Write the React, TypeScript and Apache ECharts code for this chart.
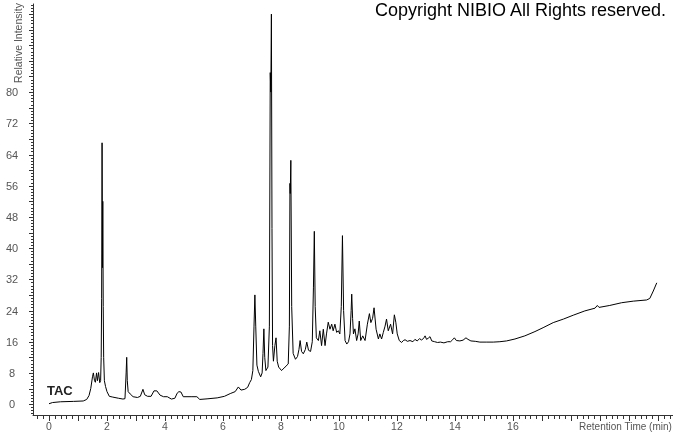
import React, { useEffect, useRef } from "react";
import * as echarts from "echarts";

const retentionTime: number[] = [
  0.0, 0.12, 0.4, 0.85, 1.18, 1.3, 1.38, 1.44, 1.5, 1.53, 1.57, 1.6, 1.64, 1.67, 1.71, 1.75, 1.78, 1.8, 1.815, 1.83,
  1.845, 1.855, 1.87, 1.885, 1.91, 1.95, 2.0, 2.08, 2.2, 2.4, 2.55, 2.62, 2.66, 2.68, 2.7, 2.73, 2.8, 2.9, 3.05, 3.15,
  3.24, 3.3, 3.4, 3.52, 3.62, 3.72, 3.83, 3.95, 4.08, 4.22, 4.34, 4.42, 4.48, 4.55, 4.63, 4.9, 5.1, 5.2, 5.45, 5.8,
  6.05, 6.25, 6.42, 6.53, 6.62, 6.75, 6.85, 6.92, 6.98, 7.03, 7.07, 7.1, 7.13, 7.17, 7.22, 7.3, 7.35, 7.38, 7.41, 7.44,
  7.48, 7.55, 7.6, 7.63, 7.65, 7.67, 7.69, 7.71, 7.74, 7.79, 7.83, 7.87, 7.92, 8.02, 8.14, 8.25, 8.29, 8.31, 8.32, 8.34,
  8.37, 8.42, 8.5, 8.57, 8.62, 8.66, 8.71, 8.77, 8.84, 8.89, 8.95, 9.02, 9.08, 9.12, 9.15, 9.18, 9.22, 9.29, 9.34, 9.4,
  9.46, 9.52, 9.57, 9.63, 9.69, 9.75, 9.8, 9.86, 9.92, 9.98, 10.03, 10.08, 10.12, 10.16, 10.21, 10.27, 10.33, 10.38, 10.42, 10.44,
  10.47, 10.5, 10.55, 10.61, 10.66, 10.7, 10.75, 10.82, 10.9, 10.98, 11.05, 11.1, 11.16, 11.21, 11.28, 11.36, 11.41, 11.47, 11.53, 11.59,
  11.64, 11.7, 11.78, 11.85, 11.91, 11.96, 12.01, 12.08, 12.16, 12.22, 12.28, 12.36, 12.45, 12.55, 12.62, 12.7, 12.78, 12.85, 12.93, 12.97,
  13.02, 13.08, 13.14, 13.2, 13.3, 13.4, 13.5, 13.62, 13.75, 13.85, 13.92, 13.98, 14.05, 14.17, 14.28, 14.38, 14.45, 14.55, 14.7, 14.86,
  15.1, 15.32, 15.55, 15.78, 16.07, 16.41, 16.76, 17.04, 17.39, 17.74, 18.08, 18.48, 18.83, 18.91, 18.97, 19.34, 19.75, 20.15, 20.61, 20.72,
  20.84, 20.96,
];

const relativeIntensity: number[] = [
  0.1, 0.4, 0.6, 0.7, 0.8, 1.2, 2.2, 4.0, 7.0, 8.0, 6.0, 5.6, 8.0, 6.0, 8.1, 5.5, 6.0, 12, 27, 67,
  35, 52, 25, 12, 6.0, 4.5, 3.2, 2.0, 1.8, 1.5, 1.3, 1.4, 8, 12, 6, 3.2, 2.6, 1.9, 1.7, 2.0,
  3.8, 2.4, 2.0, 2.0, 3.4, 3.4, 2.3, 1.9, 1.9, 1.3, 1.5, 2.8, 3.2, 3.1, 1.9, 1.9, 1.9, 1.2, 1.35, 1.6,
  2.0, 2.7, 3.2, 4.4, 3.6, 3.8, 4.3, 5.5, 6.3, 8.6, 20, 28, 20, 10, 8.4, 7.0, 8, 13, 19.3, 12,
  8.6, 9.5, 20, 85, 80, 100, 45, 15, 11, 15, 17, 11, 9.5, 8.6, 9.5, 10.3, 20, 56.6, 54, 62.5,
  25, 13, 11.5, 12.2, 14, 16.3, 13.5, 12.9, 14, 15.9, 13.8, 13.5, 16, 30, 44.3, 25, 17, 16.3, 18.8, 15,
  19.2, 15, 18, 21, 19.2, 20.5, 18.8, 20.5, 18.4, 18.8, 18, 25, 43.2, 24, 16.3, 15.4, 16, 18, 24, 28.2,
  22, 18, 19.3, 16.3, 18, 21.3, 16.3, 17.5, 16.3, 20.5, 23.2, 20.9, 22, 24.7, 19.2, 16.7, 18, 16.7, 18.4, 20,
  21.8, 18.8, 20.5, 18, 22.9, 21, 18, 16.3, 15.8, 16.3, 16.5, 16.1, 16.3, 16.0, 16.6, 16.2, 16.8, 16.4, 17.0, 17.5,
  16.6, 16.9, 17.3, 16.2, 16.0, 15.8, 15.9, 15.7, 16.0, 16.0, 16.5, 17.0, 16.3, 16.2, 16.4, 17.0, 16.6, 16.2, 16.1, 15.9,
  15.9, 15.9, 16.0, 16.2, 16.7, 17.5, 18.6, 19.6, 20.9, 21.8, 22.8, 23.9, 24.6, 25.3, 24.8, 25.3, 26.0, 26.4, 26.7, 27.1,
  29, 31.1,
];

const xTickLabels: number[] = [0, 2, 4, 6, 8, 10, 12, 14, 16];
const yTickLabels: number[] = [0, 8, 16, 24, 32, 40, 48, 56, 64, 72, 80];

const X_MIN = -0.552;
const X_MAX = 21.52;
const Y_MIN = -2.79;
const Y_MAX = 102.6;

function steps(from: number, to: number, step: number): number[] {
  const out: number[] = [];
  const n = Math.round((to - from) / step);
  for (let i = 0; i <= n; i++) out.push(+(from + i * step).toFixed(4));
  return out;
}

export default function App() {
  const ref = useRef<HTMLDivElement>(null);

  useEffect(() => {
    if (!ref.current) return;
    const chart = echarts.init(ref.current, undefined, { renderer: "svg" });
    const data = retentionTime.map((t, i) => [t, relativeIntensity[i]]);
    const axisColor = "#333";
    const labelColor = "#555";

    chart.setOption({
      animation: false,
      grid: { left: 33, right: 0, top: 0, bottom: 18 },
      title: [
        {
          text: "Copyright NIBIO All Rights reserved.",
          left: 375,
          top: 1,
          padding: 0,
          textStyle: { fontSize: 18, fontWeight: "normal", color: "#000" },
        },
        {
          text: "TAC",
          left: 47,
          top: 384,
          padding: 0,
          textStyle: { fontSize: 13, fontWeight: "bold", color: "#222" },
        },
        {
          text: "Retention Time (min)",
          right: 1,
          top: 421,
          padding: 0,
          textStyle: { fontSize: 10, fontWeight: "normal", color: labelColor },
        },
      ],
      xAxis: {
        type: "value",
        min: X_MIN,
        max: X_MAX,
        axisLine: { show: true, onZero: false, lineStyle: { color: axisColor } },
        axisTick: { show: false },
        axisLabel: { customValues: xTickLabels, margin: 5, fontSize: 10.5, color: labelColor },
        splitLine: { show: false },
      },
      yAxis: [
        {
          type: "value",
          min: Y_MIN,
          max: Y_MAX,
          axisLine: { show: true, onZero: false, lineStyle: { color: axisColor } },
          axisTick: { show: false },
          axisLabel: { customValues: yTickLabels, margin: 21, align: "center", fontSize: 11, color: labelColor },
          splitLine: { show: false },
        },
        {
          type: "value",
          min: Y_MIN,
          max: Y_MAX,
          position: "left",
          offset: 15,
          axisLine: { show: false, onZero: false },
          axisTick: { show: false },
          axisLabel: { show: false },
          splitLine: { show: false },
          name: "Relative Intensity",
          nameLocation: "end",
          nameRotate: 90,
          nameGap: -79,
          nameTextStyle: { fontSize: 10.5, color: labelColor, align: "left", verticalAlign: "middle" },
        },
      ],
      series: [
        {
          type: "line",
          data,
          showSymbol: false,
          clip: false,
          lineStyle: { color: "#000", width: 1 },
        },
      ],
    });

    const px = (x: number, y: number) => chart.convertToPixel({ gridIndex: 0 }, [x, y]) as number[];
    const origin = px(X_MIN, Y_MIN);
    const topPt = px(X_MIN, Y_MAX);
    const rightPt = px(X_MAX, Y_MIN);
    const left = Math.round(origin[0]);
    const bottom = Math.round(origin[1]);
    const top = Math.round(topPt[1]);
    const rightX = Math.round(rightPt[0]);

    const r = (x: number, y: number, w: number, h: number) => ({
      type: "rect",
      silent: true,
      z: 50,
      shape: { x, y, width: w, height: h },
      style: { fill: axisColor },
    });

    const elements: any[] = [];
    elements.push(r(left, top, 1, bottom - top + 1));
    elements.push(r(left, bottom, rightX - left, 1));
    steps(0, 21, 1).forEach((v) => elements.push(r(Math.round(px(v, Y_MIN)[0]), bottom + 1, 1, 5)));
    steps(-0.4, 21.4, 0.2).forEach((v) => elements.push(r(Math.round(px(v, Y_MIN)[0]), bottom + 1, 1, 3)));
    steps(0, 100, 4).forEach((v) => elements.push(r(left - 4, Math.round(px(X_MIN, v)[1]), 4, 1)));
    steps(-2.4, 102.4, 0.8).forEach((v) => elements.push(r(left - 2, Math.round(px(X_MIN, v)[1]), 2, 1)));

    chart.setOption({ graphic: elements });

    return () => chart.dispose();
  }, []);

  return <div ref={ref} style={{ position: "fixed", left: 0, top: 0, width: 673, height: 433 }} />;
}
